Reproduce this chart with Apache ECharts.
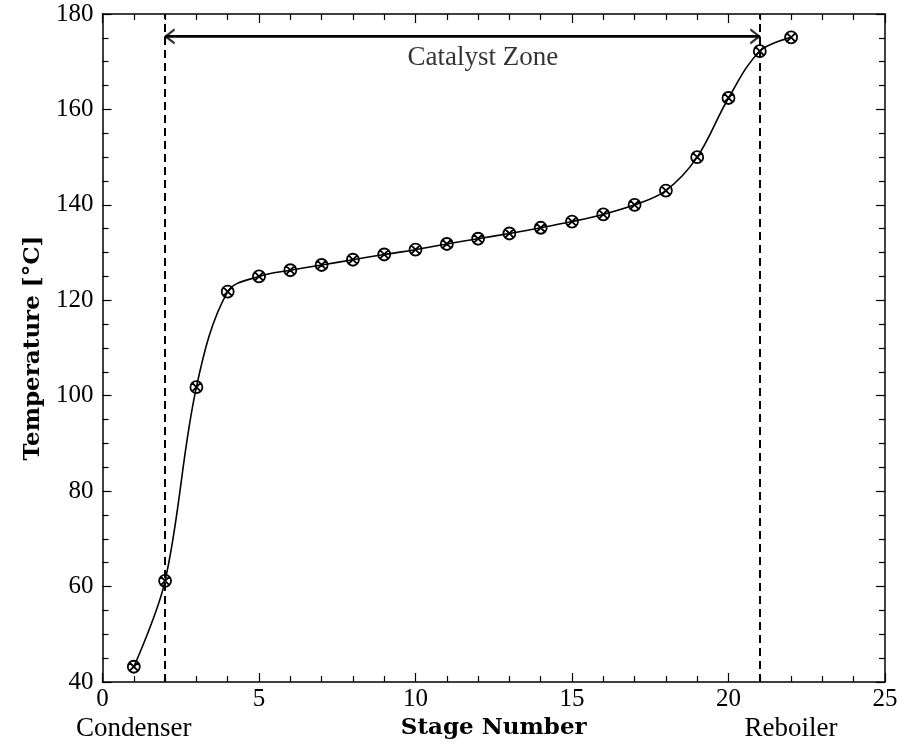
<!DOCTYPE html>
<html>
<head>
<meta charset="utf-8">
<script src="https://cdn.jsdelivr.net/npm/echarts@6/dist/echarts.min.js"></script>
<style>html,body{margin:0;padding:0;background:#fff}#c{width:907px;height:748px}</style>
</head>
<body>
<div id="c"></div>
<script>
var stages = [1,2,3,4,5,6,7,8,9,10,11,12,13,14,15,16,17,18,19,20,21,22];
var temps = [43.2,61.2,101.8,121.8,125.0,126.3,127.4,128.5,129.6,130.6,131.8,132.9,134.0,135.2,136.5,138.0,140.0,143.0,150.0,162.4,172.2,175.1];
var zoneBounds = [2, 21];
var zoneArrowY = 175.3;
var zoneLabel = ['Catalyst Zone', 12.15, 170.8];
var endLabels = {1: 'Condenser', 22: 'Reboiler'};
var xTicks = {min: 0, max: 25, step: 5};
var yTicks = {min: 40, max: 180, step: 20};

var FONT = 'Liberation Serif';
var BOLDFONT = 'DejaVu Serif';
var chart = echarts.init(document.getElementById('c'), null, {renderer: 'canvas'});
var markerPath = 'path://M10,0 A10,10 0 1,1 10,20 A10,10 0 1,1 10,0 Z M2.93,2.93 L17.07,17.07 M17.07,2.93 L2.93,17.07';
var chevron = 'path://M10,0 L0,10 L10,20';

function axisCommon(pos, showLabel) {
  return {
    type: 'value', position: pos,
    axisLine: {show: true, onZero: false, lineStyle: {color: '#000', width: 1.5}},
    axisTick: {show: true, inside: true, length: 9, lineStyle: {color: '#000', width: 1.2}},
    minorTick: {show: true, length: 6, lineStyle: {color: '#000', width: 1.2}},
    splitLine: {show: false},
    axisLabel: {show: showLabel, color: '#000', fontFamily: FONT, fontSize: 25}
  };
}

var xBottom = axisCommon('bottom', true);
Object.assign(xBottom, {min: xTicks.min, max: xTicks.max, interval: xTicks.step});
xBottom.minorTick.splitNumber = 5;
xBottom.axisLabel.margin = 5;
var xTop = axisCommon('top', false);
Object.assign(xTop, {min: xTicks.min, max: xTicks.max, interval: xTicks.step});
xTop.minorTick.splitNumber = 5;
var xNames = {
  type: 'value', position: 'bottom', offset: 33, min: xTicks.min, max: xTicks.max, interval: 1,
  axisLine: {show: false}, axisTick: {show: false}, splitLine: {show: false},
  axisLabel: {show: true, color: '#000', fontFamily: FONT, fontSize: 27, margin: 0,
    formatter: function (v) { return endLabels[v] || ''; }},
  name: 'Stage Number', nameLocation: 'middle', nameGap: 2, nameMoveOverlap: false,
  nameTextStyle: {color: '#000', fontFamily: BOLDFONT, fontSize: 23, fontWeight: 'bold', verticalAlign: 'top'}
};
var yLeft = axisCommon('left', true);
Object.assign(yLeft, {min: yTicks.min, max: yTicks.max, interval: yTicks.step});
yLeft.minorTick.splitNumber = 4;
yLeft.axisLabel.margin = 9;
yLeft.name = 'Temperature [°C]';
yLeft.nameLocation = 'middle';
yLeft.nameGap = 58;
yLeft.nameMoveOverlap = false;
yLeft.nameTextStyle = {color: '#000', fontFamily: BOLDFONT, fontSize: 23, fontWeight: 'bold'};
var yRight = axisCommon('right', false);
Object.assign(yRight, {min: yTicks.min, max: yTicks.max, interval: yTicks.step});
yRight.minorTick.splitNumber = 4;

var points = stages.map(function (s, i) { return [s, temps[i]]; });

chart.setOption({
  animation: false,
  backgroundColor: '#fff',
  grid: {left: 102.5, right: 22, top: 14, bottom: 66, containLabel: false, outerBoundsMode: 'none'},
  xAxis: [xBottom, xTop, xNames],
  yAxis: [yLeft, yRight],
  series: [
    {
      type: 'line', data: points, smooth: 0.35,
      symbol: markerPath, symbolSize: 12, showAllSymbol: true,
      lineStyle: {color: '#000', width: 1.6},
      itemStyle: {color: 'rgba(0,0,0,0)', borderColor: '#000', borderWidth: 1.8},
      z: 5,
      markLine: {
        silent: true, symbol: 'none', label: {show: false},
        lineStyle: {color: '#000', width: 2, type: [8, 5]},
        data: zoneBounds.map(function (b) { return {xAxis: b}; })
      }
    },
    {
      type: 'line', data: zoneBounds.map(function (b) { return [b, zoneArrowY]; }),
      symbol: 'none', lineStyle: {color: '#000', width: 2.8}, silent: true
    },
    {
      type: 'scatter', silent: true,
      data: [
        {value: [zoneBounds[0], zoneArrowY], symbolRotate: 0, symbolOffset: [5, 0]},
        {value: [zoneBounds[1], zoneArrowY], symbolRotate: 180, symbolOffset: [-5, 0]}
      ],
      symbol: chevron, symbolSize: [9, 14],
      itemStyle: {color: 'rgba(0,0,0,0)', borderColor: '#000', borderWidth: 2}
    },
    {
      type: 'scatter', silent: true, symbolSize: 0,
      data: [[zoneLabel[1], zoneLabel[2]]],
      label: {show: true, position: 'inside', formatter: zoneLabel[0], color: '#000', fontFamily: FONT, fontSize: 27}
    }
  ]
});
</script>
</body>
</html>
